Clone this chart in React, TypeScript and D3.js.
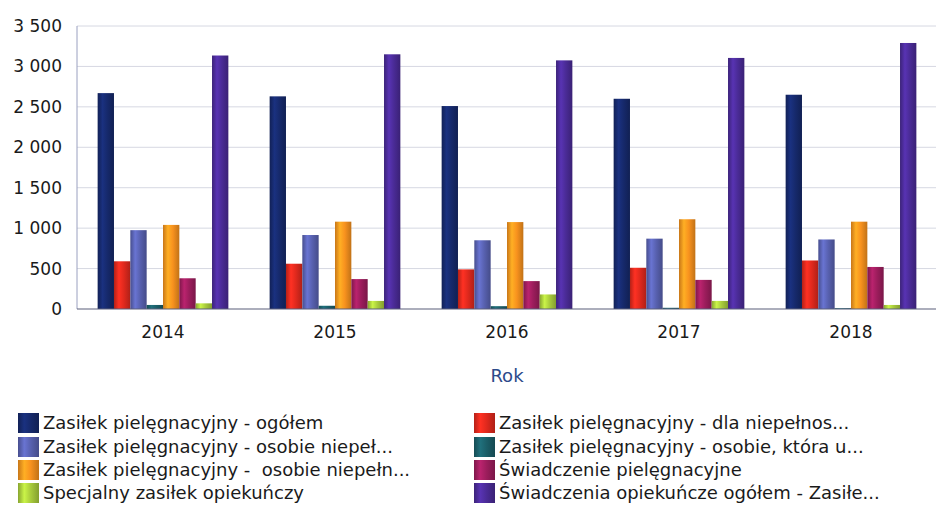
import { useMemo } from 'react';
import * as d3 from 'd3';

const years = ['2014', '2015', '2016', '2017', '2018'];

const seriesNames = [
  'Zasiłek pielęgnacyjny - ogółem',
  'Zasiłek pielęgnacyjny - dla niepełnos...',
  'Zasiłek pielęgnacyjny - osobie niepeł...',
  'Zasiłek pielęgnacyjny - osobie, która u...',
  'Zasiłek pielęgnacyjny -  osobie niepełn...',
  'Świadczenie pielęgnacyjne',
  'Specjalny zasiłek opiekuńczy',
  'Świadczenia opiekuńcze ogółem - Zasiłe...',
];

const ogolem = [2670, 2630, 2510, 2600, 2650];
const dlaNiepelnos = [590, 560, 490, 510, 600];
const osobieNiepel = [975, 915, 850, 870, 860];
const osobieKtora = [50, 40, 35, 15, 10];
const osobieNiepeln = [1040, 1080, 1075, 1110, 1080];
const swiadczenie = [380, 370, 345, 360, 520];
const specjalny = [70, 100, 180, 100, 50];
const opiekuncze = [3135, 3150, 3075, 3105, 3290];

const seriesValues = [
  ogolem,
  dlaNiepelnos,
  osobieNiepel,
  osobieKtora,
  osobieNiepeln,
  swiadczenie,
  specjalny,
  opiekuncze,
];

const colors = [
  '#16296b',
  '#e0291d',
  '#5861b0',
  '#1b5e68',
  '#f8921e',
  '#9c1d5c',
  '#a9cc3c',
  '#4a2b96',
];

const yTicks = [0, 500, 1000, 1500, 2000, 2500, 3000, 3500];

const fmt = (v: number) => d3.format(',')(v).replace(/,/g, ' ');

export default function App() {
  const width = 936;
  const height = 526;
  const margin = { left: 77, right: -1, top: 26, bottom: 217 };
  const font = 'DejaVu Sans, Verdana, sans-serif';

  const { x, xi, y } = useMemo(() => {
    const x = d3
      .scaleBand<string>()
      .domain(years)
      .range([margin.left, width - margin.right])
      .paddingInner(0.24)
      .paddingOuter(0.12);
    const xi = d3
      .scaleBand<number>()
      .domain(d3.range(seriesNames.length))
      .range([0, x.bandwidth()]);
    const y = d3
      .scaleLinear()
      .domain([0, 3500])
      .range([height - margin.bottom, margin.top]);
    return { x, xi, y };
  }, []);

  const step = x.step();
  const legendRows = [423, 447, 470, 493];

  return (
    <svg
      width={width}
      height={height}
      style={{ position: 'absolute', left: 0, top: 0, background: '#fff' }}
      fontFamily={font}
    >
      <defs>
        {colors.map((c, i) => {
          const base = d3.color(c)!;
          return (
            <linearGradient key={i} id={`g${i}`} x1="0" x2="1" y1="0" y2="0">
              <stop offset="0" stopColor={base.darker(0.6).formatHex()} />
              <stop offset="0.3" stopColor={base.brighter(0.5).formatHex()} />
              <stop offset="0.6" stopColor={c} />
              <stop offset="1" stopColor={base.darker(0.7).formatHex()} />
            </linearGradient>
          );
        })}
      </defs>

      {yTicks.slice(1).map((t) => (
        <line
          key={t}
          x1={margin.left}
          x2={width}
          y1={y(t)}
          y2={y(t)}
          stroke="#d6d8e2"
          strokeWidth={1}
        />
      ))}
      <line
        x1={margin.left}
        x2={margin.left}
        y1={y(3500)}
        y2={y(0)}
        stroke="#9aa0c0"
      />

      {years.map((yr, j) =>
        seriesValues.map((vals, i) => (
          <rect
            key={`${yr}-${i}`}
            x={(x(yr) ?? 0) + (xi(i) ?? 0)}
            y={y(vals[j])}
            width={xi.bandwidth()}
            height={y(0) - y(vals[j])}
            fill={`url(#g${i})`}
          />
        )),
      )}

      <line
        x1={margin.left}
        x2={width}
        y1={y(0)}
        y2={y(0)}
        stroke="#5a5f7a"
        strokeWidth={1.2}
      />

      {yTicks.map((t) => (
        <text
          key={t}
          x={62}
          y={y(t)}
          dy="0.35em"
          textAnchor="end"
          fontSize={17}
          fill="#1a1a1a"
        >
          {fmt(t)}
        </text>
      ))}

      {years.map((yr) => (
        <text
          key={yr}
          x={(x(yr) ?? 0) + x.bandwidth() / 2}
          y={y(0) + 29}
          textAnchor="middle"
          fontSize={17}
          fill="#1a1a1a"
        >
          {yr}
        </text>
      ))}

      <text
        x={margin.left + (step * years.length) / 2}
        y={382}
        textAnchor="middle"
        fontSize={18}
        fill="#2c4a8a"
      >
        Rok
      </text>

      {seriesNames.map((name, i) => {
        const col = i % 2;
        const row = Math.floor(i / 2);
        const sx = col === 0 ? 18 : 474;
        const cy = legendRows[row];
        return (
          <g key={name}>
            <rect
              x={sx}
              y={cy - 10}
              width={21}
              height={20}
              fill={`url(#g${i})`}
            />
            <text
              x={sx + 25}
              y={cy}
              dy="0.35em"
              fontSize={18}
              fill="#1a1a1a"
              style={{ whiteSpace: 'pre' }}
            >
              {name}
            </text>
          </g>
        );
      })}
    </svg>
  );
}
